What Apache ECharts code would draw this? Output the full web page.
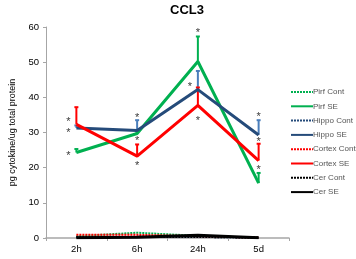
<!DOCTYPE html>
<html>
<head>
<meta charset="utf-8">
<script src="https://cdn.jsdelivr.net/npm/echarts@6/dist/echarts.min.js"></script>
<style>
  html, body { margin: 0; padding: 0; background: #fff; }
  #chart { width: 356px; height: 259px; }
</style>
</head>
<body>
<div id="chart"></div>
<script>
const times = ["2h", "6h", "24h", "5d"];

const pirfCont = [0.5, 1.5, 0.6, 0.1];
const pirfSE = [24.3, 29.7, 50.2, 15.6];
const hippoCont = [0.3, 0.4, 0.3, 0.1];
const hippoSE = [31.3, 30.6, 42.2, 29.3];
const cortexCont = [0.9, 0.9, 0.5, 0.1];
const cortexSE = [32.3, 23.3, 37.7, 22.0];
const cerCont = [0.2, 0.3, 0.3, 0.1];
const cerSE = [0.1, 0.2, 0.8, 0.1];

// upper end of the error bars
const pirfErr = [25.3, 30.3, 57.3, 18.5];
const hippoErr = [32.0, 33.5, 47.5, 33.5];
const cortexErr = [37.2, 26.6, 42.8, 26.8];

// asterisks: [category, value]
const starsLeft = [["2h", 33.6], ["2h", 30.5], ["2h", 24.0], ["24h", 43.6]];
const starsCenter = [["6h", 34.8], ["6h", 28.3], ["6h", 21.1],
  ["24h", 59.0], ["24h", 33.9], ["5d", 35.0], ["5d", 28.0], ["5d", 19.8]];

const GREEN = "#00b050", NAVY = "#254b7a", LBLUE = "#4a7ebb", RED = "#ff0000", BLACK = "#000";

const chart = echarts.init(document.getElementById("chart"));

function lineSeries(name, data, color, dotted) {
  return {
    name: name,
    type: "line",
    data: data,
    symbol: "none",
    color: color,
    z: dotted ? 2 : 3,
    lineStyle: { color: color, width: dotted ? 2 : 3, type: dotted ? [2, 1] : "solid" }
  };
}

function errSeries(vals, upper, color) {
  return {
    type: "custom",
    z: 3,
    data: vals.map((v, i) => [i, v, upper[i]]),
    renderItem: function (params, api) {
      const lo = api.coord([api.value(0), api.value(1)]);
      const hi = api.coord([api.value(0), api.value(2)]);
      const st = { stroke: color, lineWidth: 2 };
      return {
        type: "group",
        children: [
          { type: "line", shape: { x1: lo[0], y1: lo[1], x2: hi[0], y2: hi[1] }, style: st },
          { type: "line", shape: { x1: hi[0] - 2, y1: hi[1], x2: hi[0] + 2, y2: hi[1] }, style: st }
        ]
      };
    }
  };
}

function starSeries(data, dx) {
  return {
    type: "scatter",
    data: data,
    symbolSize: 0,
    silent: true,
    z: 5,
    label: {
      show: true, formatter: "*", position: "inside", offset: [dx, 2],
      color: "#000", fontSize: 11, fontFamily: "Liberation Sans"
    }
  };
}

chart.setOption({
  animation: false,
  title: {
    text: "CCL3", left: 182, top: -1, textAlign: "center",
    textStyle: { fontSize: 13, fontWeight: "bold", color: "#000", fontFamily: "Liberation Sans" }
  },
  legend: {
    orient: "vertical", left: 290, top: 88, padding: 0,
    itemWidth: 22, itemHeight: 10, itemGap: 6.3,
    itemStyle: { opacity: 0 },
    data: ["Pirf Cont", "Pirf SE", "Hippo Cont", "Hippo SE", "Cortex Cont", "Cortex SE", "Cer Cont", "Cer SE"],
    textStyle: { fontSize: 8, color: "#555", fontFamily: "Liberation Sans", padding: [0, 0, 0, -5] }
  },
  grid: { left: 39, top: 27, width: 250, bottom: 21 },
  xAxis: {
    type: "category", data: times, boundaryGap: true,
    axisLine: { lineStyle: { color: "#a6a6a6", width: 1.5 } },
    axisTick: { show: true, lineStyle: { color: "#a6a6a6" }, length: 3 },
    axisLabel: { color: "#000", fontSize: 9.5, margin: 6, fontFamily: "Liberation Sans" }
  },
  yAxis: {
    type: "value", min: 0, max: 60, interval: 10,
    name: "pg cytokine/ug total protein", nameLocation: "middle", nameGap: 29,
    nameTextStyle: { fontSize: 9, color: "#000", fontFamily: "Liberation Sans" },
    axisLine: { show: true, lineStyle: { color: "#a6a6a6" } },
    axisTick: { show: true, length: 3, lineStyle: { color: "#a6a6a6" } },
    splitLine: { show: false },
    axisLabel: { color: "#000", fontSize: 9.5, margin: 7, fontFamily: "Liberation Sans" }
  },
  series: [
    lineSeries("Pirf Cont", pirfCont, GREEN, true),
    lineSeries("Pirf SE", pirfSE, GREEN, false),
    lineSeries("Hippo Cont", hippoCont, NAVY, true),
    lineSeries("Hippo SE", hippoSE, NAVY, false),
    lineSeries("Cortex Cont", cortexCont, RED, true),
    lineSeries("Cortex SE", cortexSE, RED, false),
    lineSeries("Cer Cont", cerCont, BLACK, true),
    lineSeries("Cer SE", cerSE, BLACK, false),
    errSeries(pirfSE, pirfErr, GREEN),
    errSeries(hippoSE, hippoErr, LBLUE),
    errSeries(cortexSE, cortexErr, RED),
    starSeries(starsLeft, -8),
    starSeries(starsCenter, 0)
  ]
});
</script>
</body>
</html>
